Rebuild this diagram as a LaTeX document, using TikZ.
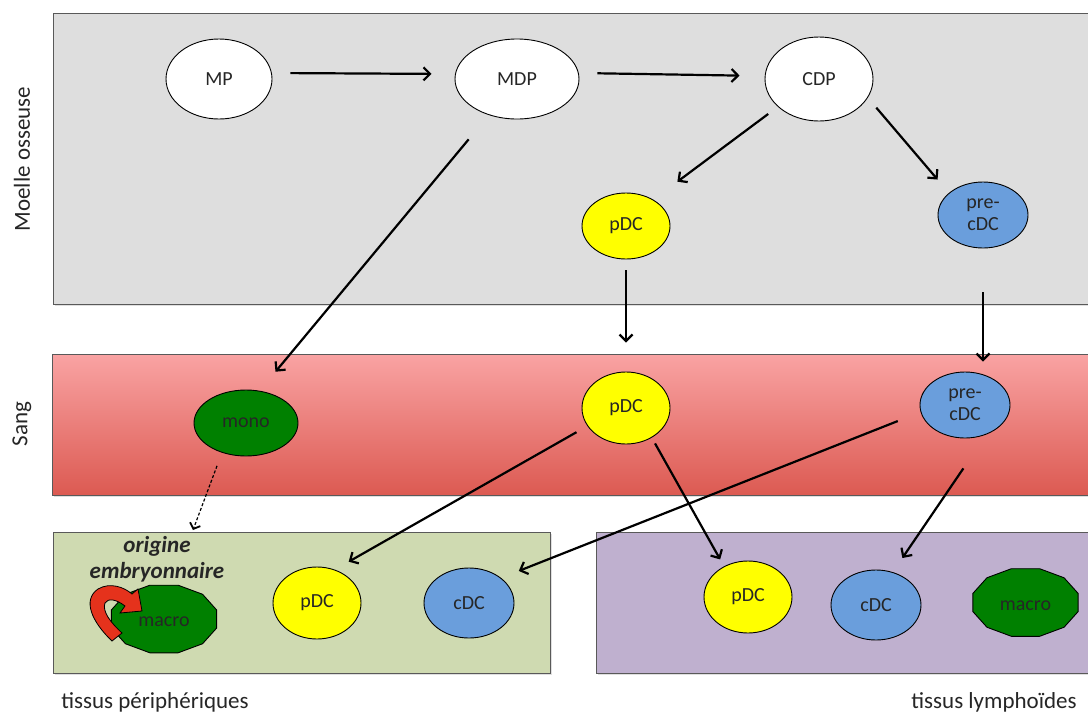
\documentclass[tikz,border=0pt]{standalone}
\usepackage{fontspec}
\setmainfont{Carlito}
\usetikzlibrary{arrows.meta,shapes.geometric,shadows}

\definecolor{marrowgray}{HTML}{DEDEDE}
\definecolor{bloodtop}{HTML}{F9A3A3}
\definecolor{bloodbottom}{HTML}{DC5A52}
\definecolor{periphgreen}{HTML}{CFDAB1}
\definecolor{lymphpurple}{HTML}{BFB0CF}
\definecolor{pdcyellow}{HTML}{FFFF00}
\definecolor{cdcblue}{HTML}{6A9EDC}
\definecolor{monogreen}{HTML}{008000}
\definecolor{macrored}{HTML}{E5321C}

\tikzset{
  cell/.style={ellipse, draw=black, line width=0.9pt, inner sep=0pt,
    font=\fontsize{20}{22}\selectfont, text=black!85},
  stem/.style={cell, fill=white},
  pdc/.style={cell, fill=pdcyellow, minimum width=88pt, minimum height=70pt},
  cdc/.style={cell, fill=cdcblue, minimum width=90pt, minimum height=68pt, align=center},
  monocyte/.style={cell, fill=monogreen, minimum width=104pt, minimum height=66pt},
  compartment/.style={draw=black!65, line width=1pt,
    drop shadow={opacity=0.25, shadow xshift=1.5pt, shadow yshift=-1.5pt}},
  flow/.style={-{Straight Barb[length=6.5pt,width=13pt,line width=2.2pt]}, line width=2.2pt},
  sidelabel/.style={font=\fontsize{23}{27}\selectfont, text=black!85},
}

% 12-sided macrophage outline around a centre
\newcommand\macrocell[3]{%
  \filldraw[fill=monogreen, draw=black, line width=0.9pt]
    plot[samples=13, domain=15:375] ({#1+54.5*cos(\x)}, {#2+35*sin(\x)}) -- cycle;
  \node[font=\fontsize{20}{22}\selectfont, text=black!85] (#3) at (#1,#2+3) {macro};
}

\begin{document}
\begin{tikzpicture}[x=1pt, y=-1pt]
\useasboundingbox (0,0) rectangle (1088,713);

% ── Compartments ─────────────────────────────────────────────
\draw[compartment, fill=marrowgray] (53,13) rectangle (1100,304);
\draw[compartment, top color=bloodtop, bottom color=bloodbottom] (52,354) rectangle (1100,495);
\draw[compartment, fill=periphgreen] (53,532) rectangle (550,673);
\draw[compartment, fill=lymphpurple] (596,532) rectangle (1100,673);

\node[sidelabel, rotate=90] (marrowlbl) at (22,159) {Moelle osseuse};
\node[sidelabel, rotate=90] (bloodlbl) at (22,424) {Sang};
\node[sidelabel] (periphlbl) at (155,702) {tissus périphériques};
\node[sidelabel] (lymphlbl) at (994,702) {tissus lymphoïdes};

% ── Bone marrow ──────────────────────────────────────────────
\node[stem, minimum width=106pt, minimum height=80pt] (MP) at (219,79) {MP};
\node[stem, minimum width=124pt, minimum height=80pt] (MDP) at (517,79) {MDP};
\node[stem, minimum width=108pt, minimum height=84pt] (CDP) at (819,79) {CDP};
\node[pdc, minimum height=66pt] (pDCm) at (626,226) {pDC};
\node[cdc, minimum height=66pt] (preCm) at (983,215) {pre-\\cDC};

% ── Blood ────────────────────────────────────────────────────
\node[monocyte] (mono) at (246,423) {mono};
\node[pdc, minimum height=72pt] (pDCb) at (626,408) {pDC};
\node[cdc, minimum height=66pt] (preCb) at (965,405) {pre-\\cDC};

% ── Tissues ──────────────────────────────────────────────────
\node[pdc, minimum height=72pt] (pDCp) at (317,603) {pDC};
\node[cdc, minimum height=70pt] (cDCp) at (469,603) {cDC};
\macrocell{164}{619}{macroP}
\node[pdc, minimum height=72pt] (pDCl) at (748,597) {pDC};
\node[cdc, minimum height=70pt] (cDCl) at (876,605) {cDC};
\macrocell{1025.5}{602.5}{macroL}

\node[font=\fontsize{23}{26}\selectfont\bfseries\itshape, align=center, text=black!85]
  (origin) at (157,559) {origine\\embryonnaire};

% red self-renewal arrow
\filldraw[fill=macrored, draw=black, line width=0.8pt]
  (112,641) .. controls (92,622) and (82,600) .. (98,589)
  .. controls (110,582) and (124,587) .. (132,594) -- (138,589) -- (142,611)
  -- (120,613) -- (125,606) .. controls (116,599) and (108,598) .. (105,603)
  .. controls (102,611) and (110,622) .. (122,633) -- cycle;

% ── Connectors ───────────────────────────────────────────────
\draw[flow, shorten <=18pt, shorten >=23pt] ([yshift=6pt]MP.east) -- ([yshift=5pt]MDP.west);
\draw[flow, shorten <=18pt, shorten >=25pt] ([yshift=6pt]MDP.east) -- ([yshift=3pt]CDP.west);
\draw[flow, shorten <=12pt, shorten >=30pt] (CDP.214.5) -- (pDCm.44);
\draw[flow, shorten <=13pt, shorten >=17.5pt] (CDP.-21.5) -- (preCm.147.5);
\draw[flow, shorten <=31.5pt, shorten >=24.7pt] (MDP.232.2) -- (mono.67.6);
\draw[flow, shorten <=11pt, shorten >=29pt] (pDCm.south) -- (pDCb.north);
\draw[flow, shorten <=44pt, shorten >=10pt] (preCm.south) -- (preCm.south |- preCb.north);

\coordinate (periphtop) at (193,530);
\draw[flow, line width=1.2pt, dash pattern=on 3pt off 2pt, shorten <=14pt,
  -{Straight Barb[length=5pt,width=11pt,line width=1.8pt]}] (mono.231) -- (periphtop);

\draw[flow, shorten <=12.5pt, shorten >=16pt] (pDCb.205) -- (pDCp.62.7);
\draw[flow, shorten <=6.6pt, shorten >=7.9pt] (pDCb.311) -- (pDCl.128.7);
\draw[flow, shorten <=24.5pt, shorten >=19pt] (preCb.189) -- (cDCp.38.6);
\draw[flow, shorten <=41pt, shorten >=17pt] (preCb.306) -- (cDCl.63.4);

\end{tikzpicture}
\end{document}
